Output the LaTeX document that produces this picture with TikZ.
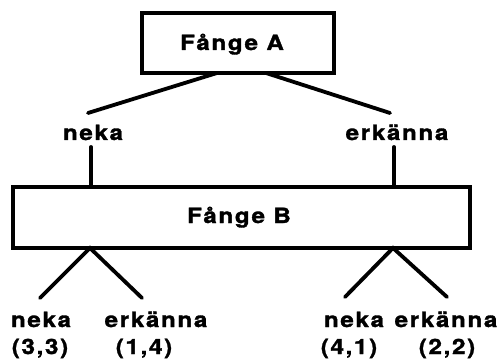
\documentclass[tikz,border=0pt]{standalone}
\usepackage{fontspec}
\setmainfont{TeX Gyre Heros}[FakeStretch=1.15, LetterSpace=8, FakeBold=1.6]
\begin{document}
\begin{tikzpicture}[x=1pt, y=-1pt,
  lbl/.style={anchor=base, inner sep=0pt, font=\fontsize{21}{24}\selectfont\bfseries},
  box/.style={draw, line width=3.2pt},
  link/.style={line width=3.8pt, line cap=round}]
  \useasboundingbox (0,0) rectangle (500,363);

  % the two player boxes
  \draw[box] (142,13) rectangle (334,73);
  \draw[box] (13,187) rectangle (470,248);
  \node[lbl] (fa) at (232,50) {Fånge A};
  \node[lbl] (fb) at (239,223) {Fånge B};

  % first move: A's choices
  \coordinate (aL) at (217,73);
  \coordinate (aR) at (266,73);
  \coordinate (nL) at (88,113);
  \coordinate (nR) at (390,113);
  \draw[link] (aL) -- (nL);
  \draw[link] (aR) -- (nR);
  \node[lbl] (neka) at (93,140) {neka};
  \node[lbl] (erk) at (397,140) {erkänna};

  % links down to B
  \coordinate (vL1) at (91,147);
  \coordinate (vL2) at (91,187);
  \coordinate (vR1) at (394,147);
  \coordinate (vR2) at (394,187);
  \draw[link] (vL1) -- (vL2);
  \draw[link] (vR1) -- (vR2);

  % second move: B's choices
  \coordinate (bL) at (90,248);
  \coordinate (bR) at (393,248);
  \coordinate (eLL) at (40,298);
  \coordinate (eLR) at (142,298);
  \coordinate (eRL) at (345,297);
  \coordinate (eRR) at (447,297);
  \draw[link] (eLL) -- (bL) -- (eLR);
  \draw[link] (eRL) -- (bR) -- (eRR);

  % outcomes
  \node[lbl] (n1) at (41,327) {neka};
  \node[lbl] (e1) at (156,327) {erkänna};
  \node[lbl] (n2) at (354,327) {neka};
  \node[lbl] (e2) at (446,327) {erkänna};
  \node[lbl] (p1) at (40,354) {(3,3)};
  \node[lbl] (p2) at (144,354) {(1,4)};
  \node[lbl] (p3) at (349,354) {(4,1)};
  \node[lbl] (p4) at (447,354) {(2,2)};
\end{tikzpicture}
\end{document}
